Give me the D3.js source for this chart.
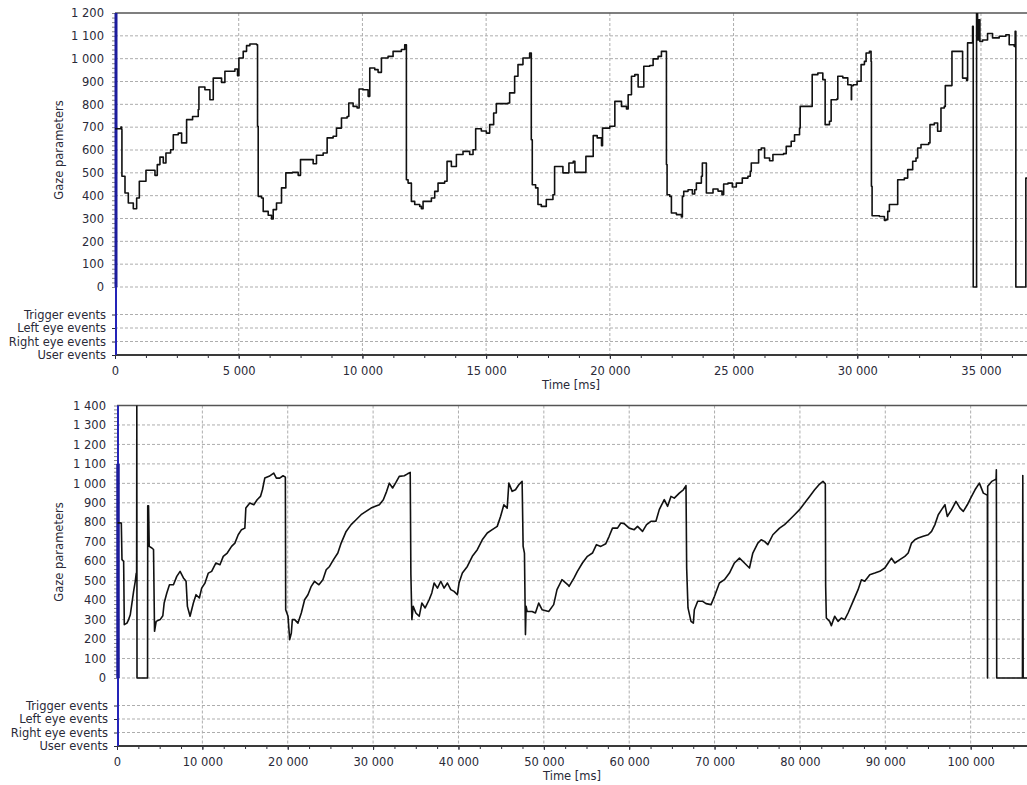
<!DOCTYPE html>
<html>
<head>
<meta charset="utf-8">
<script src="https://cdn.jsdelivr.net/npm/d3@7"></script>
<style>
  body { margin: 0; background: #fff; }
  svg text { font-family: "DejaVu Sans", Verdana, sans-serif; font-size: 11.5px; fill: #2a2a38; }
  .grid line { stroke: #adadad; stroke-width: 1; stroke-dasharray: 3,2; }
  .trace { fill: none; stroke: #111; stroke-width: 1.6; stroke-linejoin: round; }
</style>
</head>
<body>
<svg id="chart" width="1027" height="785"></svg>
<script>
// event rows under the gaze area
const eventRows = ['Trigger events', 'Left eye events', 'Right eye events', 'User events'];

// blue marker at t=0 (value span)
const topBlue = [0, 1200];
const bottomBlue = [0, 1100];

// top recording: [time ms, gaze]
const topTrace = [
  [0, 693], [200, 693], [240, 700], [269, 690], [280, 485], [404, 412], [538, 368], [740, 343], [875, 390],
  [983, 463], [1144, 463], [1252, 511], [1413, 511], [1615, 489], [1709, 536], [1817, 569], [1952, 543],
  [2059, 587], [2248, 601], [2356, 667], [2557, 674], [2692, 631], [2867, 631], [2894, 733], [3136, 747],
  [3365, 777], [3392, 876], [3634, 864], [3836, 820], [3971, 915], [4173, 915], [4307, 896], [4442, 945],
  [4846, 955], [4953, 925], [5007, 1003], [5182, 1032], [5317, 1057], [5451, 1064], [5721, 1061],
  [5761, 704], [5788, 397], [5922, 390], [5990, 331], [6192, 314], [6326, 298], [6394, 339], [6528, 368],
  [6690, 368], [6730, 434], [6905, 500], [7174, 502], [7403, 489], [7497, 558], [7807, 558], [8009, 540],
  [8143, 577], [8413, 587], [8574, 653], [8816, 660], [8951, 696], [9153, 740], [9382, 747], [9449, 806],
  [9624, 791], [9785, 784], [9866, 867], [10028, 864], [10230, 835], [10297, 959], [10499, 952],
  [10633, 940], [10768, 1003], [11037, 1010], [11239, 1032], [11576, 1040], [11710, 1061], [11777, 470],
  [11845, 455], [11979, 375], [12114, 361], [12316, 353], [12383, 343], [12451, 375], [12652, 375],
  [12787, 390], [12922, 419], [13056, 455], [13325, 463], [13420, 550], [13595, 528], [13729, 528],
  [13797, 580], [14066, 594], [14335, 580], [14470, 601], [14577, 693], [14806, 683], [15008, 674],
  [15143, 711], [15304, 762], [15412, 803], [15883, 806], [15950, 850], [16152, 923], [16287, 974],
  [16489, 1003], [16758, 1025], [16825, 645], [16865, 448], [17000, 434], [17094, 361], [17229, 353],
  [17431, 383], [17700, 404], [17767, 528], [17969, 528], [18103, 500], [18238, 500], [18346, 543],
  [18521, 551], [18588, 502], [18991, 502], [19032, 572], [19260, 572], [19328, 663], [19489, 653],
  [19664, 619], [19704, 696], [20000, 704], [20161, 704], [20202, 813], [20471, 791], [20673, 780],
  [20740, 842], [20874, 923], [21009, 930], [21143, 876], [21318, 876], [21372, 967], [21614, 970],
  [21749, 999], [21950, 1010], [22085, 1032], [22260, 1032], [22287, 536], [22313, 404], [22421, 397],
  [22488, 324], [22690, 317], [22892, 307], [22932, 397], [22986, 419], [23161, 426], [23336, 407],
  [23430, 426], [23497, 455], [23605, 455], [23699, 485], [23739, 543], [23874, 543], [23901, 412],
  [24170, 429], [24371, 420], [24533, 404], [24600, 451], [24775, 455], [24950, 438], [25111, 455],
  [25353, 477], [25582, 485], [25676, 507], [25716, 543], [25918, 543], [26012, 601], [26120, 609],
  [26254, 565], [26456, 553], [26591, 580], [27021, 584], [27129, 616], [27330, 638], [27465, 667],
  [27667, 696], [27693, 791], [28097, 791], [28178, 930], [28406, 937], [28608, 908], [28675, 908],
  [28702, 711], [28877, 726], [28944, 820], [29173, 823], [29213, 923], [29415, 916], [29617, 886],
  [29751, 882], [29760, 820], [29770, 882], [29845, 886], [29993, 901], [30155, 974], [30289, 988],
  [30357, 1025], [30491, 1032], [30558, 988], [30572, 441], [30599, 312], [30827, 312], [30895, 309],
  [31096, 292], [31164, 295], [31231, 331], [31298, 361], [31594, 361], [31634, 470], [31903, 477],
  [32038, 514], [32240, 551], [32374, 565], [32441, 609], [32576, 624], [32885, 631], [32939, 711],
  [33114, 718], [33248, 682], [33316, 682], [33383, 784], [33518, 791], [33558, 882], [33746, 882],
  [33827, 1032], [34190, 1032], [34257, 915], [34418, 905], [34459, 1069], [34593, 1069], [34661, 1142],
  [34687, 0], [34795, 0], [34822, 1210], [34862, 1082], [34902, 1170], [34956, 1075], [35064, 1082],
  [35266, 1110], [35468, 1091], [35737, 1098], [36006, 1105], [36140, 1061], [36342, 1054], [36382, 1120],
  [36409, 0], [36786, 0], [36813, 477], [36860, 477]
];

// bottom recording: [time ms, gaze]
const bottomTrace = [
  [60, 797], [311, 797], [506, 796], [584, 608], [778, 600], [856, 274], [1167, 282], [1362, 300],
  [1556, 325], [1751, 385], [1945, 445], [2140, 497], [2256, 539], [2300, 540], [2320, 1420], [2345, 0],
  [3579, 0], [3600, 885], [3696, 885], [3773, 676], [4085, 668], [4279, 660], [4396, 240], [4590, 291],
  [5057, 300], [5368, 320], [5524, 385], [5835, 437], [6146, 479], [6613, 479], [7002, 522], [7391, 548],
  [7780, 514], [8091, 497], [8247, 368], [8558, 317], [8947, 385], [9258, 428], [9647, 411], [9920, 462],
  [10309, 488], [10698, 539], [11087, 548], [11592, 591], [12059, 582], [12448, 625], [12915, 642],
  [13421, 676], [13810, 693], [14199, 736], [14588, 762], [14977, 770], [15093, 873], [15560, 899],
  [16027, 890], [16416, 916], [16805, 933], [17038, 967], [17311, 1027], [17816, 1036], [18361, 1053],
  [18672, 1027], [19061, 1027], [19450, 1039], [19722, 1032], [19761, 351], [20034, 317], [20228, 197],
  [20423, 231], [20539, 300], [20812, 300], [21201, 282], [21590, 334], [21979, 402], [22368, 428],
  [22757, 471], [23146, 497], [23651, 479], [24118, 505], [24507, 556], [24896, 573], [25363, 608],
  [25869, 642], [26258, 693], [26841, 753], [27425, 788], [28008, 813], [28592, 839], [29175, 856],
  [29759, 873], [30264, 882], [30731, 890], [31198, 916], [31587, 959], [31898, 1001], [32287, 976],
  [32676, 1005], [33065, 1036], [33649, 1039], [34038, 1049], [34349, 1056], [34427, 531], [34543, 300],
  [34699, 368], [35010, 334], [35399, 317], [35710, 385], [36099, 360], [36566, 402], [36877, 437],
  [37150, 488], [37539, 462], [37928, 497], [38317, 462], [38706, 488], [39095, 454], [39484, 445],
  [39873, 428], [40067, 488], [40456, 539], [41040, 573], [41623, 625], [42207, 659], [42790, 710],
  [43374, 745], [43957, 762], [44541, 779], [44930, 830], [45319, 890], [45708, 873], [45902, 1001],
  [46291, 959], [46680, 967], [47069, 993], [47458, 1010], [47575, 676], [47730, 642], [47847, 223],
  [47925, 368], [48042, 342], [48625, 342], [49014, 334], [49403, 385], [49792, 351], [50570, 342],
  [51154, 377], [51543, 454], [52126, 505], [52826, 479], [52955, 471], [53542, 514], [53933, 548],
  [54520, 591], [55108, 625], [55695, 642], [56164, 685], [56673, 676], [57260, 690], [57652, 728],
  [58043, 770], [58630, 770], [59022, 796], [59413, 793], [60000, 770], [60587, 762], [60979, 779],
  [61566, 753], [62035, 788], [62544, 805], [63131, 805], [63523, 865], [64110, 916], [64501, 882],
  [64893, 933], [65284, 924], [65871, 950], [66341, 967], [66654, 988], [66732, 565], [66889, 360],
  [67241, 291], [67515, 282], [67632, 351], [68024, 394], [68611, 394], [69002, 382], [69589, 377],
  [69981, 419], [70568, 488], [71155, 505], [71742, 539], [72329, 591], [72916, 616], [73503, 591],
  [74090, 565], [74482, 642], [75069, 693], [75460, 710], [75852, 702], [76243, 685], [76830, 736],
  [77613, 770], [78200, 788], [78787, 813], [79374, 839], [79961, 865], [80549, 899], [81136, 933],
  [81723, 967], [82232, 993], [82701, 1010], [82975, 998], [83014, 471], [83093, 308], [83484, 291],
  [83680, 269], [84071, 317], [84463, 291], [84854, 308], [85246, 300], [85637, 334], [86224, 394],
  [86811, 454], [87202, 505], [87594, 497], [88181, 531], [88768, 539], [89355, 548], [89942, 565],
  [90334, 591], [90725, 616], [91116, 591], [91703, 608], [92290, 625], [92682, 642], [93073, 693],
  [93465, 710], [93856, 719], [94443, 728], [95030, 736], [95422, 753], [95813, 788], [96205, 839],
  [96596, 865], [96988, 890], [97262, 830], [97770, 865], [98279, 907], [98749, 873], [99140, 856],
  [99610, 890], [100001, 924], [100510, 967], [101019, 1001], [101489, 950], [101880, 941],
  [101960, 941], [101975, 0], [101995, 985], [102467, 1010], [102858, 1019], [102975, 1019],
  [103010, 1070], [103054, 0], [106068, 0], [106107, 1040], [106150, 0], [106600, 0]
];

const fmt = d3.formatLocale({ decimal: ',', thousands: '\u00a0', grouping: [3], currency: ['', ''] }).format(',');
const svg = d3.select('#chart');

const panels = [
  { id: 'p1', trace: topTrace, curve: d3.curveStepAfter, blue: topBlue, blueWide: 3, xMax: 36860, xStep: 5000,
    xMinor: 1250, yMax: 1200, left: 115, right: 1027, top: 13, zero: 287, axisY: 355, labelY: 150 },
  { id: 'p2', trace: bottomTrace, curve: d3.curveLinear, blue: bottomBlue, blueWide: 3.5, xMax: 106600, xStep: 10000,
    xMinor: 2500, yMax: 1400, left: 117, right: 1027, top: 405.5, zero: 678, axisY: 746, labelY: 552 },
];

function styleAxis(g) {
  g.attr('font-family', '"DejaVu Sans", Verdana, sans-serif').attr('font-size', 11.5).attr('color', '#2a2a38');
  g.select('.domain').remove();
}

function drawPanel(p) {
  const x = d3.scaleLinear().domain([0, p.xMax]).range([p.left, p.right]);
  const y = d3.scaleLinear().domain([0, p.yMax]).range([p.zero, p.top]);
  const ev = d3.scalePoint().domain(eventRows).range([p.zero + 27.5, p.axisY]);
  const yTicks = d3.range(0, p.yMax + 1, 100);
  const xTicks = d3.range(0, p.xMax, p.xStep);
  const g = svg.append('g');

  // grid
  const hy = yTicks.slice(0, -1).map(y).concat(eventRows.slice(0, 3).map(ev));
  g.append('g').attr('class', 'grid').selectAll('line').data(hy).join('line')
    .attr('x1', p.left).attr('x2', p.right).attr('y1', (d) => d).attr('y2', (d) => d);
  g.append('g').attr('class', 'grid').selectAll('line').data(xTicks.slice(1)).join('line')
    .attr('x1', x).attr('x2', x).attr('y1', p.top).attr('y2', p.axisY);

  // top frame
  g.append('line').attr('x1', p.left).attr('x2', p.right).attr('y1', p.top).attr('y2', p.top)
    .attr('stroke', '#555').attr('stroke-width', 1.5);

  // x axis
  g.append('g').attr('transform', `translate(0,${p.axisY})`)
    .call(d3.axisBottom(x).tickValues(d3.range(0, p.xMax, p.xMinor)).tickSize(3).tickFormat(''))
    .call(styleAxis);
  g.append('g').attr('transform', `translate(0,${p.axisY})`)
    .call(d3.axisBottom(x).tickValues(xTicks).tickSize(4).tickPadding(8).tickFormat(fmt))
    .call(styleAxis);
  g.append('line').attr('x1', p.left).attr('x2', p.right).attr('y1', p.axisY).attr('y2', p.axisY)
    .attr('stroke', '#3a3a3a').attr('stroke-width', 2);
  g.append('text').attr('x', (p.left + p.right) / 2).attr('y', p.axisY + 34)
    .attr('text-anchor', 'middle').text('Time [ms]');

  // y axis
  g.append('g').attr('transform', `translate(${p.left},0)`)
    .call(d3.axisLeft(y).tickValues(d3.range(0, p.yMax + 1, 20)).tickSize(3).tickFormat(''))
    .call(styleAxis)
    .attr('color', '#8a8a8a');
  g.append('g').attr('transform', `translate(${p.left},0)`)
    .call(d3.axisLeft(y).tickValues(yTicks).tickSize(0).tickPadding(11).tickFormat(fmt))
    .call(styleAxis);
  g.append('g').attr('transform', `translate(${p.left},0)`)
    .call(d3.axisLeft(ev).tickSize(3).tickPadding(6))
    .call(styleAxis);
  g.append('text').attr('transform', `translate(63,${p.labelY}) rotate(-90)`)
    .attr('text-anchor', 'middle').text('Gaze parameters');

  // blue marker at t = 0
  g.append('line').attr('x1', x(0) + 1).attr('x2', x(0) + 1).attr('y1', p.top).attr('y2', p.axisY)
    .attr('stroke', '#2424b8').attr('stroke-width', 2);
  g.append('line').attr('x1', x(0) + 1).attr('x2', x(0) + 1).attr('y1', y(p.blue[1])).attr('y2', y(p.blue[0]))
    .attr('stroke', '#1c1c9c').attr('stroke-width', p.blueWide);

  // trace
  g.append('clipPath').attr('id', 'clip-' + p.id).append('rect')
    .attr('x', p.left).attr('y', p.top).attr('width', p.right - p.left).attr('height', p.zero - p.top + 2);
  const line = d3.line().x((d) => x(d[0])).y((d) => y(d[1])).curve(p.curve);
  g.append('path').attr('class', 'trace').attr('clip-path', `url(#clip-${p.id})`)
    .attr('d', line(p.trace));
}

panels.forEach(drawPanel);
</script>
</body>
</html>
